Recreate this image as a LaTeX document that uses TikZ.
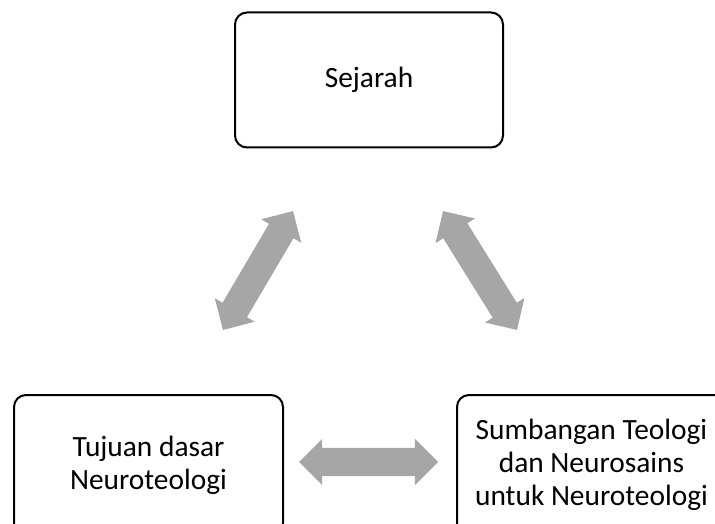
\documentclass[tikz,border=0pt]{standalone}
\usepackage{fontspec}
\setmainfont{Carlito}
\usetikzlibrary{shapes.arrows}
\definecolor{linkgray}{HTML}{A6A6A6}
\tikzset{
  topic/.style={draw=black, line width=2pt, rounded corners=12pt, fill=white,
    minimum width=268pt, minimum height=135pt, align=center,
    font=\fontsize{29.4}{33}\selectfont, inner sep=0pt},
  link/.style={double arrow, fill=linkgray, draw=none,
    inner xsep=0pt, inner ysep=14pt, double arrow head extend=9pt,
    double arrow head indent=0pt}
}
\begin{document}
\begin{tikzpicture}[x=1pt,y=-1pt]
  \useasboundingbox (0,0) rectangle (715,524);
  \clip (0,0) rectangle (715,524);
  % three topic boxes
  \node[topic] (history) at (369,80) {Sejarah};
  \node[topic, minimum width=269pt, minimum height=140pt] (goal) at (148.5,465)
    {Tujuan dasar\\Neuroteologi};
  \node[topic, minimum width=269pt, minimum height=140pt] (contrib) at (591.5,465)
    {Sumbangan Teologi\\dan Neurosains\\untuk Neuroteologi};
  % two-way links between the topics
  \node[link, minimum height=138pt, rotate=59.5] (linkA) at (258,270.5) {};
  \node[link, minimum height=140pt, rotate=-58.1] (linkB) at (480,270.5) {};
  \node[link, minimum height=139pt] (linkC) at (368.5,462) {};
\end{tikzpicture}
\end{document}
